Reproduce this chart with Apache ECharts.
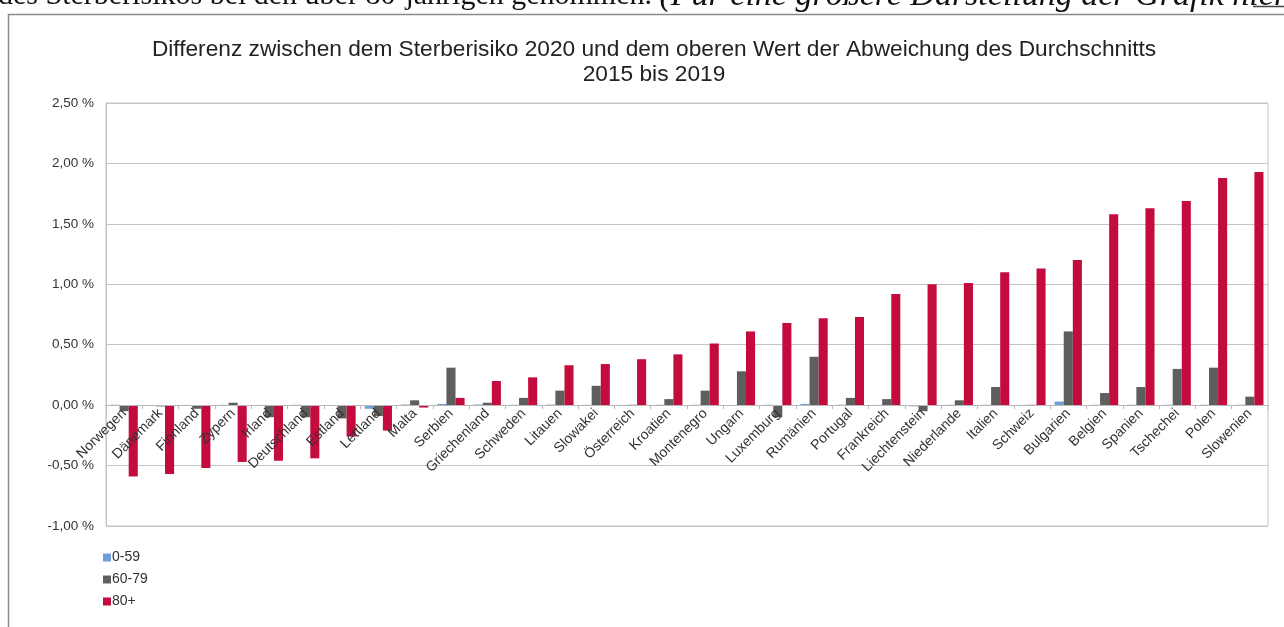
<!DOCTYPE html>
<html>
<head>
<meta charset="utf-8">
<script src="https://cdn.jsdelivr.net/npm/echarts@6/dist/echarts.min.js"></script>
<style>
html,body{margin:0;padding:0;background:#fff;}
#c{width:1284px;height:627px;}
</style>
</head>
<body>
<div id="c"></div>
<script>
const categories = ["Norwegen","Dänemark","Finnland","Zypern","Irland","Deutschland","Estland","Lettland","Malta","Serbien","Griechenland","Schweden","Litauen","Slowakei","Österreich","Kroatien","Montenegro","Ungarn","Luxemburg","Rumänien","Portugal","Frankreich","Liechtenstein","Niederlande","Italien","Schweiz","Bulgarien","Belgien","Spanien","Tschechei","Polen","Slowenien"];
const age0_59 = [0.003,-0.005,0.002,0.003,0.002,0.003,-0.005,-0.03,0.005,0.01,0.005,0.003,0.004,0.003,0.002,0.003,0.003,-0.005,0.003,0.01,0.003,0.002,-0.01,0.003,0.003,0.002,0.03,0.003,0.003,0.003,0.003,0.003];
const age60_79 = [-0.05,-0.01,-0.03,0.02,-0.10,-0.10,-0.11,-0.09,0.04,0.31,0.02,0.06,0.12,0.16,0.003,0.05,0.12,0.28,-0.10,0.40,0.06,0.05,-0.05,0.04,0.15,0.003,0.61,0.10,0.15,0.30,0.31,0.07];
const age80 = [-0.59,-0.57,-0.52,-0.47,-0.46,-0.44,-0.26,-0.21,-0.02,0.06,0.20,0.23,0.33,0.34,0.38,0.42,0.51,0.61,0.68,0.72,0.73,0.92,1.00,1.01,1.10,1.13,1.20,1.58,1.63,1.69,1.88,1.93];
const seriesNames = ["0-59","60-79","80+"];
const yTicks = {min:-1, max:2.5, interval:0.5};
const titleLines = ["Differenz zwischen dem Sterberisiko 2020 und dem oberen Wert der Abweichung des Durchschnitts","2015 bis 2019"];
const topText = "des Sterberisikos bei den über 80-jährigen genommen. ";
const topTextItalic = "(Für eine größere Darstellung der Grafik ";
const topLink = "hier";

const colors = ["#6e9fd6","#5e5e5e","#c40b3d"];
const W = 1284, H = 627;
const gridBox = {left:106, right:16, top:103, bottom:101};
const gridH = H - gridBox.top - gridBox.bottom;
const zeroOffset = -gridH * (0 - yTicks.min) / (yTicks.max - yTicks.min);

const chart = echarts.init(document.getElementById('c'), null, {renderer:'canvas'});
const fmt = v => (v<0?'-':'') + Math.abs(v).toFixed(2).replace('.',',') + ' %';

chart.setOption({
  animation:false,
  backgroundColor:'#ffffff',
  title:{
    text: titleLines.join('\n'),
    left: 649, textAlign:'center', top: 32,
    textStyle:{fontFamily:'Liberation Sans', fontSize:22.7, fontWeight:'normal', color:'#222', lineHeight:25}
  },
  graphic:[
    {type:'rect', shape:{x:8.5,y:14.5,width:1400,height:800}, style:{fill:'none', stroke:'#8a8a8a', lineWidth:1.5}, silent:true},
    {type:'text', x:-2, y:-4, style:{
      text:'{a|'+topText+'}{b|'+topTextItalic+'}{c|'+topLink+'}',
      verticalAlign:'middle',
      rich:{
        a:{fontFamily:'Liberation Serif', fontSize:30, fill:'#111'},
        b:{fontFamily:'Liberation Serif', fontSize:34, fontStyle:'italic', fill:'#111'},
        c:{fontFamily:'Liberation Serif', fontSize:34, fontStyle:'italic', fill:'#111'}
      }
    }, silent:true},
    {type:'line', shape:{x1:1253, y1:6.5, x2:1284, y2:6.5}, style:{stroke:'#444', lineWidth:1.5}, silent:true}
  ],
  legend:{
    orient:'vertical', left:98, top:544,
    itemWidth:8, itemHeight:8, itemGap:5,
    icon:'rect',
    data: seriesNames,
    textStyle:{fontFamily:'Liberation Sans', fontSize:14, color:'#333', lineHeight:17, padding:[0,0,0,-4]}
  },
  grid:Object.assign({show:true, borderColor:'#c4c4c4', borderWidth:1, containLabel:false}, gridBox),
  xAxis:{
    type:'category', data:categories, position:'bottom', offset: zeroOffset, z:10,
    axisLine:{onZero:false, lineStyle:{color:'#b8b8b8'}},
    axisTick:{show:true, length:4, lineStyle:{color:'#b8b8b8'}},
    axisLabel:{rotate:45, interval:0, margin:6, fontFamily:'Liberation Sans', fontSize:14, color:'#333'}
  },
  yAxis:{
    type:'value', min:yTicks.min, max:yTicks.max, interval:yTicks.interval,
    axisLine:{show:true, lineStyle:{color:'#c4c4c4'}},
    axisTick:{show:false},
    splitLine:{lineStyle:{color:'#c4c4c4'}},
    axisLabel:{formatter:fmt, margin:12, fontFamily:'Liberation Sans', fontSize:13.5, color:'#333'}
  },
  series:[
    {name:seriesNames[0], type:'bar', z:1, data:age0_59, itemStyle:{color:colors[0]}, barGap:'0%', barCategoryGap:'25%'},
    {name:seriesNames[1], type:'bar', z:1, data:age60_79, itemStyle:{color:colors[1]}, barGap:'0%', barCategoryGap:'25%'},
    {name:seriesNames[2], type:'bar', z:1, data:age80, itemStyle:{color:colors[2]}, barGap:'0%', barCategoryGap:'25%'}
  ]
});
</script>
</body>
</html>
